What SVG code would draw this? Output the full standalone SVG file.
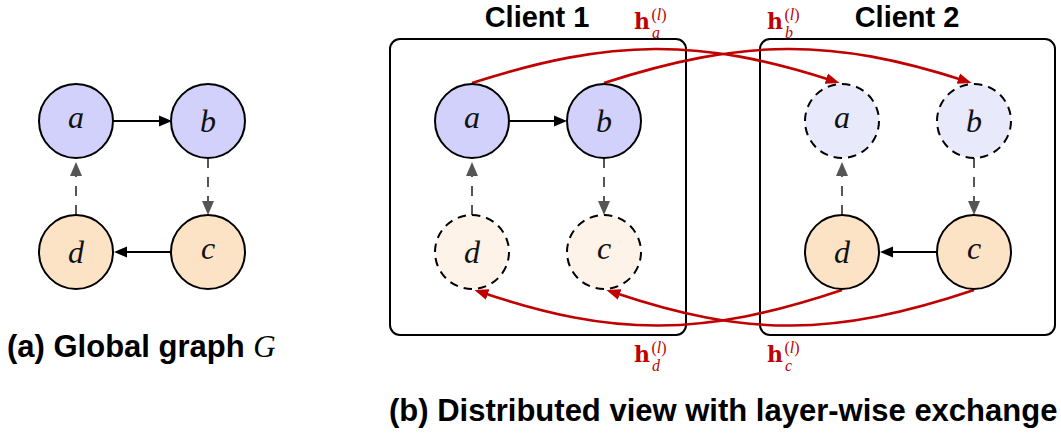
<svg xmlns="http://www.w3.org/2000/svg" width="1061" height="443" viewBox="0 0 1061 443">
  <style>
    .node { stroke: #000; stroke-width: 2; }
    .ghost { stroke: #000; stroke-width: 2; stroke-dasharray: 8.5 6; }
    .blue { fill: #d1d1fb; }
    .orange { fill: #fde3c6; }
    .blue-ghost { fill: #e9e9fc; }
    .orange-ghost { fill: #fdf3e8; }
    .lbl { font-family: "Liberation Serif", "DejaVu Serif", serif; font-style: italic; font-size: 32px; fill: #111; text-anchor: middle; }
    .edge { fill: none; stroke: #000; stroke-width: 2; }
    .dash { fill: none; stroke: #555; stroke-width: 2; stroke-dasharray: 10 9; }
    .msg { fill: none; stroke: #c00000; stroke-width: 2.6; }
    .box { fill: none; stroke: #000; stroke-width: 2; }
    .title { font-family: "Liberation Sans", Arial, sans-serif; font-weight: bold; font-size: 29px; fill: #000; text-anchor: middle; }
    .caption { font-family: "Liberation Sans", Arial, sans-serif; font-weight: bold; font-size: 31px; fill: #000; }
    .h { font-family: "Liberation Serif", "DejaVu Serif", serif; fill: #c00000; font-size: 16px; }
    .hb { font-family: "DejaVu Serif", serif; font-weight: bold; font-size: 22px; }
    .it { font-style: italic; }
  </style>
  <defs>
    <marker id="head-black" markerUnits="userSpaceOnUse" markerWidth="14" markerHeight="12" refX="5" refY="6" orient="auto">
      <path d="M0,0.5 L13,6 L0,11.5 z" fill="#000"/>
    </marker>
    <marker id="head-gray" markerUnits="userSpaceOnUse" markerWidth="15" markerHeight="13" refX="5" refY="6.5" orient="auto">
      <path d="M0,0.5 L14,6.5 L0,12.5 z" fill="#555"/>
    </marker>
    <marker id="head-red" markerUnits="userSpaceOnUse" markerWidth="16" markerHeight="12" refX="6" refY="6" orient="auto">
      <path d="M0,0.5 L14,6 L0,11.5 z" fill="#c00000"/>
    </marker>
  </defs>

  <!-- client frames -->
  <g id="client1-frame">
    <rect class="box" x="390" y="39" width="296" height="296" rx="10"/>
    <text class="title" x="537" y="27">Client 1</text>
  </g>
  <g id="client2-frame">
    <rect class="box" x="760" y="39" width="295" height="296" rx="10"/>
    <text class="title" x="907" y="27">Client 2</text>
  </g>

  <!-- connectors -->
  <g id="connectors">
    <!-- global graph -->
    <path class="edge" d="M113,121 L164,121" marker-end="url(#head-black)"/>
    <path class="edge" d="M171,252 L122,252" marker-end="url(#head-black)"/>
    <path class="dash" d="M208,158 L208,206" marker-end="url(#head-gray)"/>
    <path class="dash" d="M76,215 L76,171" marker-end="url(#head-gray)"/>

    <!-- client 1 -->
    <path class="edge" d="M510,121 L559,121" marker-end="url(#head-black)"/>
    <path class="dash" d="M604,158 L604,206" marker-end="url(#head-gray)"/>
    <path class="dash" d="M472,215 L472,171" marker-end="url(#head-gray)"/>

    <!-- client 2 -->
    <path class="edge" d="M937,252 L888,252" marker-end="url(#head-black)"/>
    <path class="dash" d="M974,158 L974,206" marker-end="url(#head-gray)"/>
    <path class="dash" d="M842,215 L842,171" marker-end="url(#head-gray)"/>

    <!-- layer-wise exchange -->
    <path class="msg" d="M472,83 C612,38 700,38 832,80.5" marker-end="url(#head-red)"/>
    <path class="msg" d="M604,83 C744,38 832,38 964,80.5" marker-end="url(#head-red)"/>
    <path class="msg" d="M842,290 C702,337 614,337 482,292.5" marker-end="url(#head-red)"/>
    <path class="msg" d="M974,290 C834,337 746,337 614,292.5" marker-end="url(#head-red)"/>
  </g>

  <!-- global graph nodes -->
  <g id="g-a"><circle class="node blue" cx="76" cy="121" r="37"/><text class="lbl" x="76" y="128">a</text></g>
  <g id="g-b"><circle class="node blue" cx="208" cy="121" r="37"/><text class="lbl" x="208" y="132">b</text></g>
  <g id="g-c"><circle class="node orange" cx="208" cy="252" r="37"/><text class="lbl" x="208" y="259">c</text></g>
  <g id="g-d"><circle class="node orange" cx="76" cy="252" r="37"/><text class="lbl" x="76" y="263">d</text></g>

  <!-- client 1 nodes -->
  <g id="c1-a"><circle class="node blue" cx="472" cy="121" r="37"/><text class="lbl" x="472" y="128">a</text></g>
  <g id="c1-b"><circle class="node blue" cx="604" cy="121" r="37"/><text class="lbl" x="604" y="132">b</text></g>
  <g id="c1-d"><circle class="ghost orange-ghost" cx="472" cy="252" r="37"/><text class="lbl" x="472" y="263">d</text></g>
  <g id="c1-c"><circle class="ghost orange-ghost" cx="604" cy="252" r="37"/><text class="lbl" x="604" y="259">c</text></g>

  <!-- client 2 nodes -->
  <g id="c2-a"><circle class="ghost blue-ghost" cx="842" cy="121" r="37"/><text class="lbl" x="842" y="128">a</text></g>
  <g id="c2-b"><circle class="ghost blue-ghost" cx="974" cy="121" r="37"/><text class="lbl" x="974" y="132">b</text></g>
  <g id="c2-d"><circle class="node orange" cx="842" cy="252" r="37"/><text class="lbl" x="842" y="263">d</text></g>
  <g id="c2-c"><circle class="node orange" cx="974" cy="252" r="37"/><text class="lbl" x="974" y="259">c</text></g>

  <!-- exchanged embeddings h^(l) -->
  <g id="label-ha"><text class="h" x="634" y="29"><tspan class="hb">h</tspan><tspan dx="1.5" dy="-9">(</tspan><tspan class="it">l</tspan><tspan>)</tspan><tspan class="it" x="652" dy="18">a</tspan></text></g>
  <g id="label-hb"><text class="h" x="767" y="29"><tspan class="hb">h</tspan><tspan dx="1.5" dy="-9">(</tspan><tspan class="it">l</tspan><tspan>)</tspan><tspan class="it" x="785" dy="18">b</tspan></text></g>
  <g id="label-hd"><text class="h" x="634" y="362"><tspan class="hb">h</tspan><tspan dx="1.5" dy="-9">(</tspan><tspan class="it">l</tspan><tspan>)</tspan><tspan class="it" x="652" dy="18">d</tspan></text></g>
  <g id="label-hc"><text class="h" x="767" y="362"><tspan class="hb">h</tspan><tspan dx="1.5" dy="-9">(</tspan><tspan class="it">l</tspan><tspan>)</tspan><tspan class="it" x="785" dy="18">c</tspan></text></g>

  <!-- captions -->
  <text class="caption" x="7" y="357">(a) Global graph <tspan font-family="Liberation Serif, serif" font-weight="normal" font-style="italic">G</tspan></text>
  <text class="caption" x="389" y="421">(b) Distributed view with layer-wise exchange</text>
</svg>
